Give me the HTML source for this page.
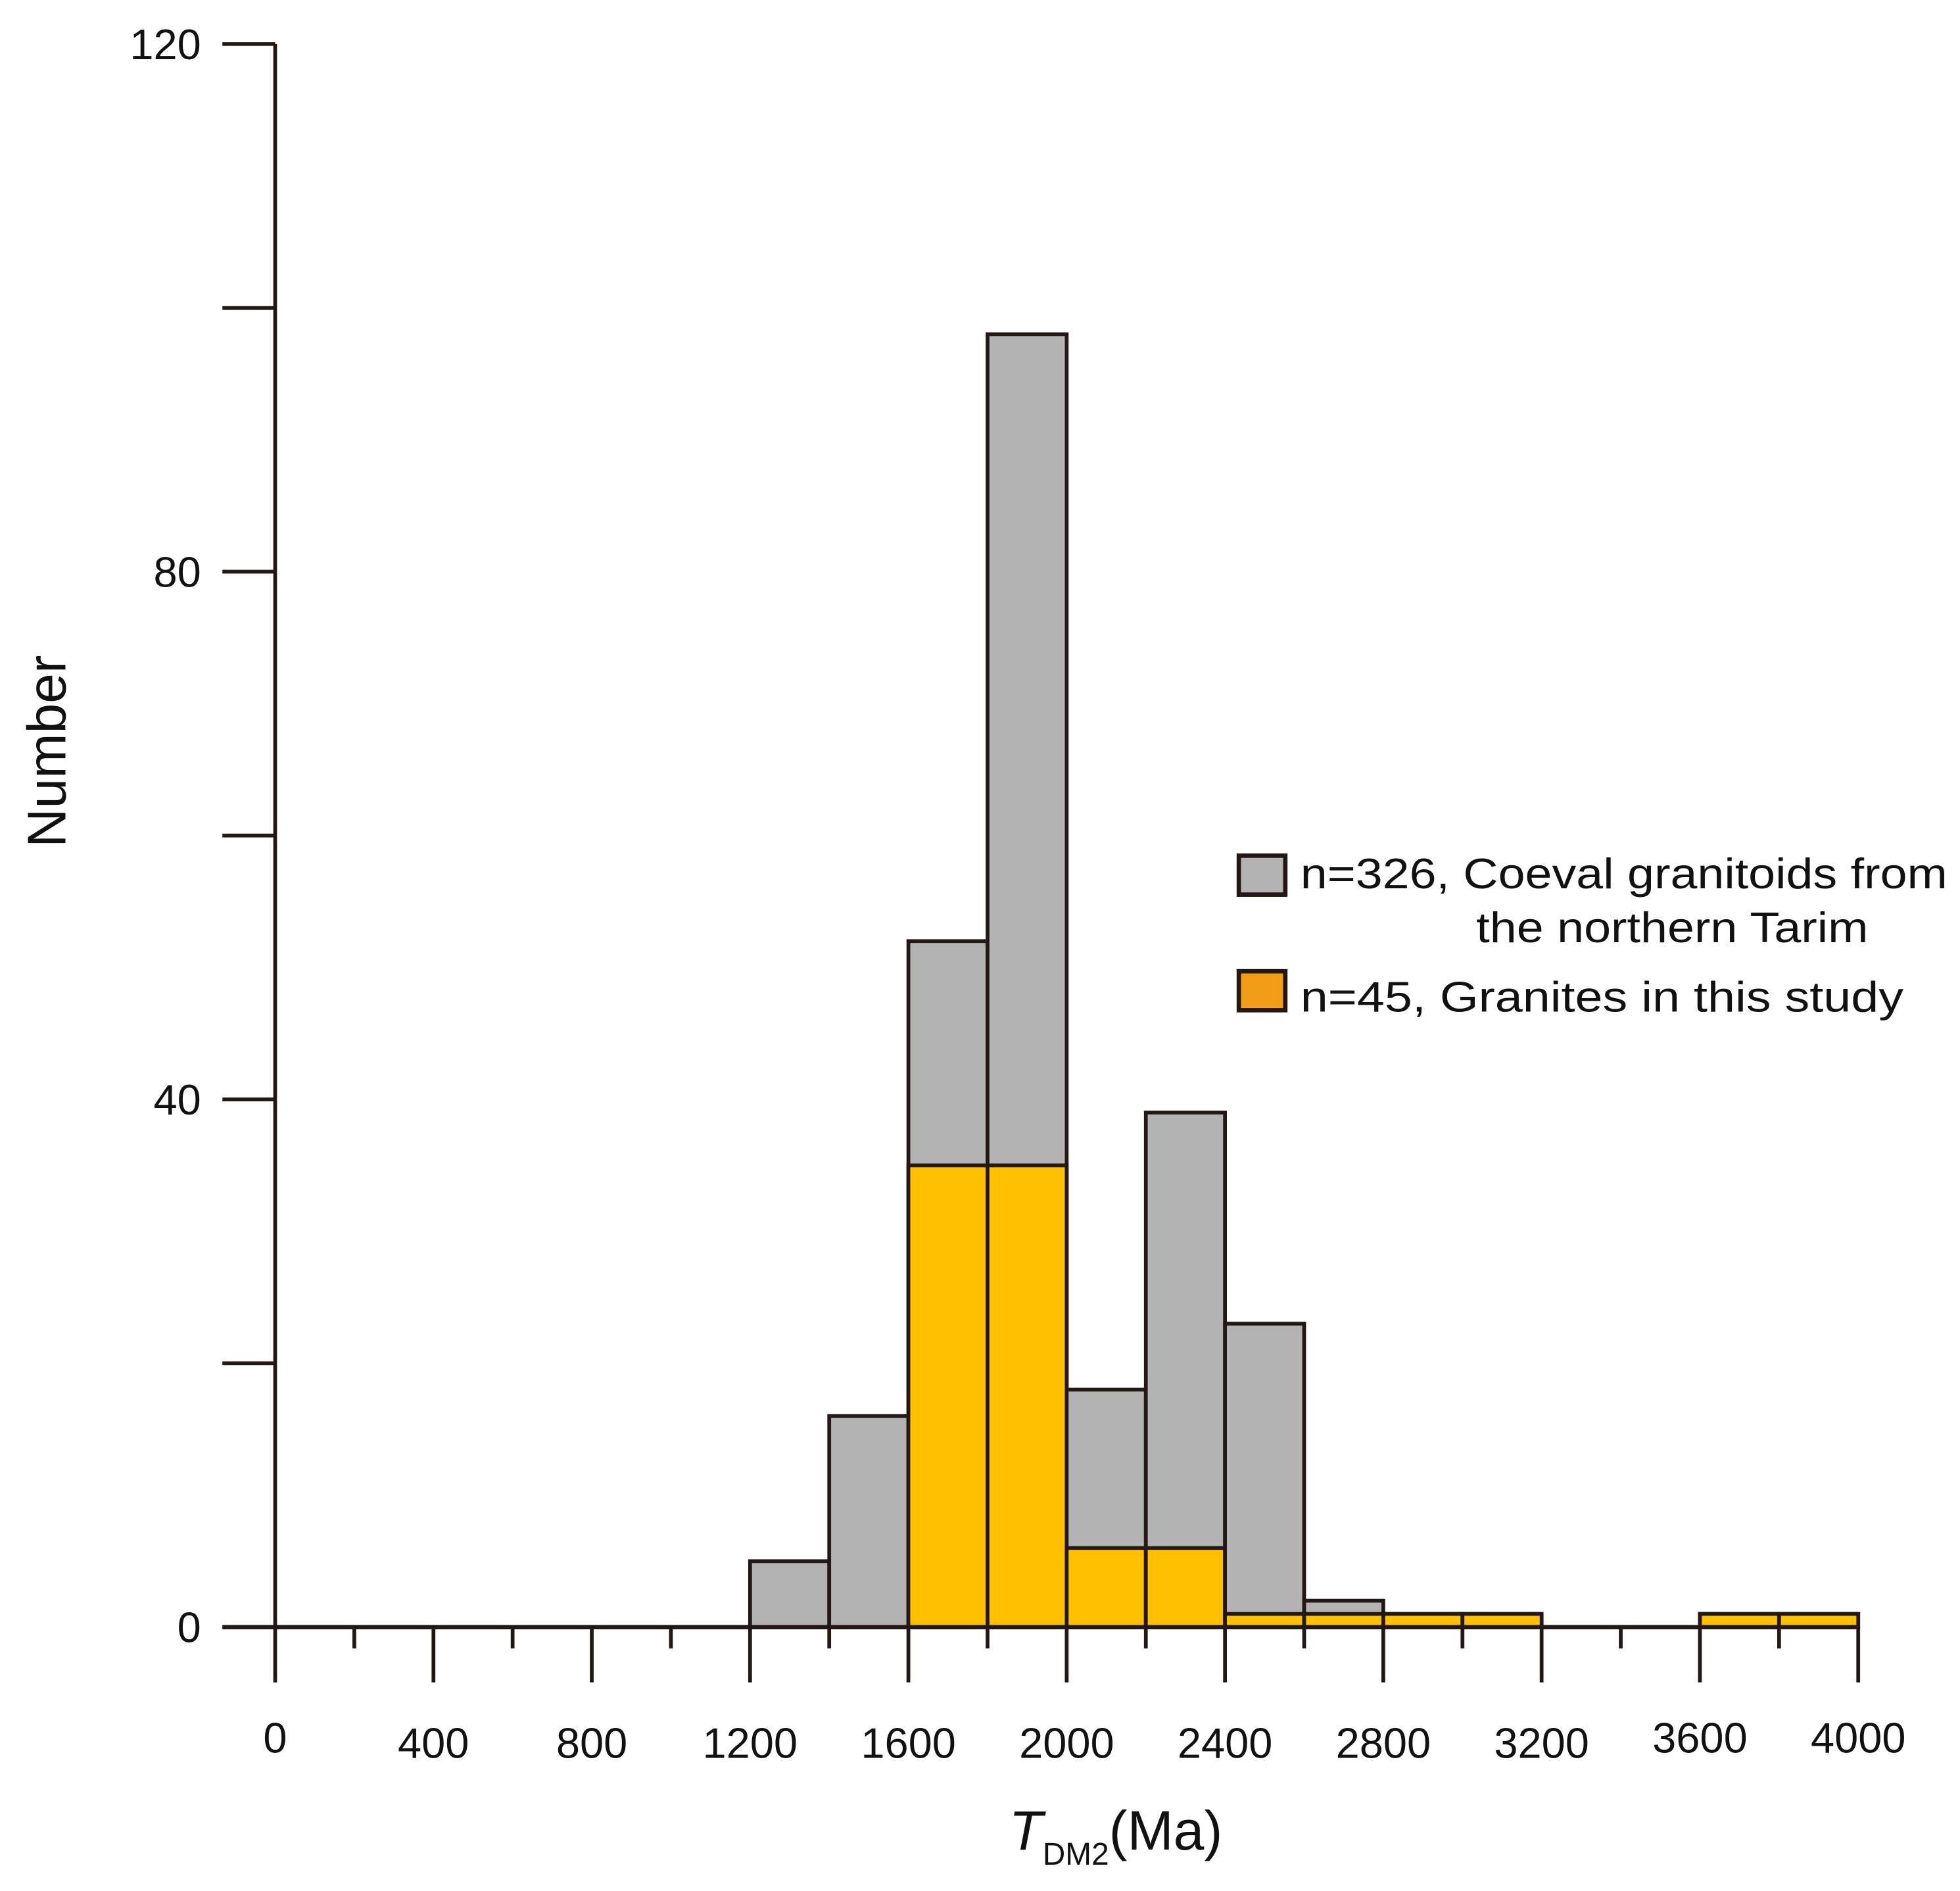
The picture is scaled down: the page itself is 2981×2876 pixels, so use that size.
<!DOCTYPE html>
<html><head><meta charset="utf-8"><style>
html,body{margin:0;padding:0;background:#fff;}
svg{display:block;}
text{font-family:"Liberation Sans",sans-serif;fill:#111;}
</style></head><body>
<svg id="chart" width="2981" height="2876" viewBox="0 0 1560 1505" xmlns="http://www.w3.org/2000/svg">
<g id="bars"></g>
<g id="axes"></g>
<text transform="translate(52,598) rotate(-90)" text-anchor="middle" font-size="43">Number</text>
<text x="803" y="1472" font-size="44"><tspan font-style="italic">T</tspan><tspan font-size="25" dy="12">DM2</tspan><tspan dy="-12">(Ma)</tspan></text>
<g>
<rect x="986" y="681" width="37" height="31" fill="#b3b3b3" stroke="#231815" stroke-width="3.5"/>
<text x="1035" y="707" font-size="34" textLength="515" lengthAdjust="spacingAndGlyphs">n=326, Coeval granitoids from</text>
<text x="1175" y="750" font-size="34" textLength="312" lengthAdjust="spacingAndGlyphs">the northern Tarim</text>
<rect x="986" y="773" width="37" height="31" fill="#f39c17" stroke="#231815" stroke-width="3.5"/>
<text x="1035" y="805" font-size="34" textLength="480" lengthAdjust="spacingAndGlyphs">n=45,  Granites in this study</text>
</g>
<script>
const binStarts=[1200,1400,1600,1800,2000,2200,2400,2600,2800,3000,3600,3800];
const totalCounts=[5,16,52,98,18,39,23,2,1,1,1,1];
const graniteCounts=[0,0,35,35,6,6,1,1,1,1,1,1];
const binWidth=200;
const xTicks=[0,400,800,1200,1600,2000,2400,2800,3200,3600,4000];
const yTicks=[0,40,80,120];
const ns="http://www.w3.org/2000/svg";
const X=v=>219+v*(1479-219)/4000;
const Y=v=>1295-v*(1295-35)/120;
const bars=document.getElementById('bars'),axes=document.getElementById('axes');
function mk(tag,attrs,parent){const e=document.createElementNS(ns,tag);for(const k in attrs)e.setAttribute(k,attrs[k]);parent.appendChild(e);return e;}
const S='#231815';
binStarts.forEach((b,i)=>{
  const r=mk('rect',{x:X(b),y:Y(totalCounts[i]),width:X(b+binWidth)-X(b),height:Y(0)-Y(totalCounts[i]),fill:'#b3b3b3',stroke:S,'stroke-width':3},bars);
  
  
  if(graniteCounts[i]>0){
    const g=mk('rect',{x:X(b),y:Y(graniteCounts[i]),width:X(b+binWidth)-X(b),height:Y(0)-Y(graniteCounts[i]),fill:'#ffc000',stroke:S,'stroke-width':3},bars);
    
    
  }
});
mk('line',{x1:X(0),y1:Y(0),x2:X(0),y2:Y(120),stroke:S,'stroke-width':3},axes);
mk('line',{x1:177,y1:Y(0),x2:X(4000),y2:Y(0),stroke:S,'stroke-width':3.5},axes);
for(let v=0;v<=120;v+=20){
  mk('line',{x1:177,y1:Y(v),x2:X(0),y2:Y(v),stroke:S,'stroke-width':3},axes);
}
yTicks.forEach(v=>{
  const t=mk('text',{x:160,y:Y(v)+12,'text-anchor':'end','font-size':34},axes);
  t.textContent=v;
  
  
});
for(let v=0;v<=4000;v+=200){
  const major=v%400===0;
  mk('line',{x1:X(v),y1:Y(0),x2:X(v),y2:major?1339:1312,stroke:S,'stroke-width':3},axes);
}
xTicks.forEach((v,i)=>{
  const t=mk('text',{x:X(v),y:(i===0||i>=9?1395:1399),'text-anchor':'middle','font-size':34},axes);
  t.textContent=v;
  
  
});
</script>
</svg>
</body></html>
